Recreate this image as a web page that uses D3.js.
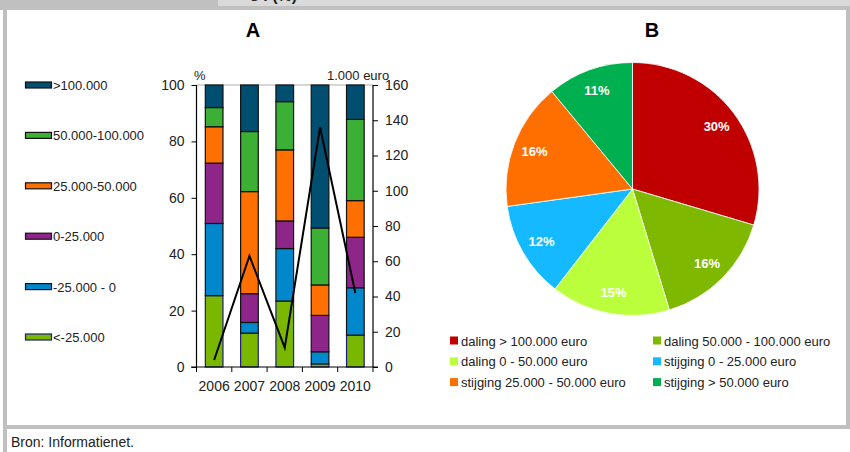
<!DOCTYPE html>
<html>
<head>
  <meta charset="utf-8">
  <script src="https://cdn.jsdelivr.net/npm/d3@7"></script>
  <style>
    body { margin: 0; background: #fff; }
    svg text { font-family: "Liberation Sans", Arial, sans-serif; fill: #222; }
  </style>
</head>
<body>
<script>
  // ---- data ----
  var years = ["2006", "2007", "2008", "2009", "2010"];
  var classNames = ["<-25.000", "-25.000 - 0", "0-25.000", "25.000-50.000", "50.000-100.000", ">100.000"];
  var below25 = [25.3, 12.0, 23.4, 1.1, 11.3];
  var minus25to0 = [25.6, 3.8, 18.6, 4.3, 16.8];
  var from0to25 = [21.4, 10.2, 9.8, 12.9, 17.9];
  var from25to50 = [12.9, 36.2, 25.2, 10.8, 13.0];
  var from50to100 = [6.8, 21.3, 17.1, 20.2, 28.8];
  var above100 = [8.0, 16.5, 5.9, 50.7, 12.2];
  var amount = [4, 63, 11, 136, 42];   // 1.000 euro, right axis

  var pieNames = ["daling > 100.000 euro", "daling 50.000 - 100.000 euro", "daling 0 - 50.000 euro",
                  "stijging 0 - 25.000 euro", "stijging 25.000 - 50.000 euro", "stijging > 50.000 euro"];
  var pieValues = [29.6, 15.7, 15.2, 12.3, 16.2, 11.0];

  var leftTicks = [0, 20, 40, 60, 80, 100];
  var rightTicks = [0, 20, 40, 60, 80, 100, 120, 140, 160];

  var barColors = ["#7ab800", "#0087cc", "#8e2689", "#ff7000", "#3cb034", "#004f70"];
  var barStrokes = ["#1c1c80", "#111", "#111", "#111", "#111", "#111"];
  var pieColors = ["#c00000", "#7fb800", "#bbff3c", "#14b9ff", "#ff6f00", "#00b050"];

  var W = 850, H = 452;
  var svg = d3.select("body").append("svg").attr("width", W).attr("height", H);

  // frame
  svg.append("rect").attr("x", 0).attr("y", 0).attr("width", 218).attr("height", 7).attr("fill", "#c0c0c0");
  svg.append("rect").attr("x", 218).attr("y", 0).attr("width", W - 218).attr("height", 6).attr("fill", "#d9d9d9");
  svg.append("text").attr("x", 250).attr("y", 1).style("font-weight", "bold").style("font-size", "16px")
    .text("s . (%)");
  svg.append("rect").attr("x", 0).attr("y", 6).attr("width", W).attr("height", 4).attr("fill", "#c0c0c0");
  svg.append("rect").attr("x", 3).attr("y", 6).attr("width", 4).attr("height", H).attr("fill", "#c0c0c0");
  svg.append("rect").attr("x", 846).attr("y", 6).attr("width", 4).attr("height", 423).attr("fill", "#c0c0c0");
  svg.append("rect").attr("x", 3).attr("y", 425).attr("width", W).attr("height", 4).attr("fill", "#c0c0c0");
  svg.append("text").attr("x", 11).attr("y", 447).style("font-size", "14px").text("Bron: Informatienet.");

  // ---- chart A ----
  svg.append("text").attr("x", 253).attr("y", 37).attr("text-anchor", "middle")
    .style("font-weight", "bold").style("font-size", "20px").style("fill", "#000").text("A");

  var x = d3.scaleBand().domain(years).range([196.5, 373]).paddingInner(0.5).paddingOuter(0.25);
  var xTicks = d3.scaleBand().domain(years).range([196.5, 373]);
  var y = d3.scaleLinear().domain([0, 100]).range([367, 85]);
  var y2 = d3.scaleLinear().domain([0, 160]).range([367, 85]);

  var rows = years.map(function (yr, i) {
    return { year: yr, s0: below25[i], s1: minus25to0[i], s2: from0to25[i],
             s3: from25to50[i], s4: from50to100[i], s5: above100[i] };
  });
  var stack = d3.stack().keys(["s0", "s1", "s2", "s3", "s4", "s5"]);
  var layers = stack(rows);

  var gA = svg.append("g");
  gA.append("line").attr("x1", 196.5).attr("x2", 373).attr("y1", 85).attr("y2", 85)
    .attr("stroke", "#999").attr("stroke-width", 0.8);

  layers.forEach(function (layer, li) {
    gA.selectAll(".s" + li).data(layer).enter().append("rect")
      .attr("x", function (d) { return x(d.data.year); })
      .attr("width", x.bandwidth())
      .attr("y", function (d) { return y(d[1]); })
      .attr("height", function (d) { return y(d[0]) - y(d[1]); })
      .attr("fill", barColors[li])
      .attr("stroke", barStrokes[li])
      .attr("stroke-width", 1.2);
  });

  var line = d3.line()
    .x(function (d, i) { return x(years[i]) + x.bandwidth() / 2; })
    .y(function (d) { return y2(d); });
  gA.append("path").datum(amount).attr("d", line)
    .attr("fill", "none").attr("stroke", "#000").attr("stroke-width", 2);

  // left axis
  var yAxis = d3.axisLeft(y).tickValues(leftTicks).tickSize(5).tickPadding(7);
  var gy = gA.append("g").attr("transform", "translate(196.5,0)").call(yAxis);
  // right axis
  var y2Axis = d3.axisRight(y2).tickValues(rightTicks).tickSize(5).tickPadding(7);
  var gy2 = gA.append("g").attr("transform", "translate(373,0)").call(y2Axis);
  // bottom axis: ticks at category boundaries, labels at centres
  var gx = gA.append("g").attr("transform", "translate(0,367)");
  gx.append("line").attr("x1", 191).attr("x2", 378).attr("y1", 0).attr("y2", 0).attr("stroke", "#000");
  years.concat(["end"]).forEach(function (yr, i) {
    var px = i < years.length ? xTicks(yr) : 373;
    gx.append("line").attr("x1", px).attr("x2", px).attr("y1", 0).attr("y2", 5).attr("stroke", "#000");
  });
  gx.selectAll(".yl").data(years).enter().append("text")
    .attr("x", function (d) { return x(d) + x.bandwidth() / 2; })
    .attr("y", 24).attr("text-anchor", "middle").style("font-size", "14px").text(function (d) { return d; });

  [gy, gy2].forEach(function (g) {
    g.select(".domain").attr("stroke", "#000").attr("stroke-width", 1.2);
    g.selectAll(".tick line").attr("stroke", "#000");
    g.selectAll(".tick text").style("font-size", "14px").style("font-family", "Liberation Sans, Arial, sans-serif").attr("fill", "#222");
  });
  gy.select(".domain").attr("d", "M0,85V367");
  gy2.select(".domain").attr("d", "M0,85V367");

  gA.append("text").attr("x", 194).attr("y", 80).style("font-size", "13px").text("%");
  gA.append("text").attr("x", 327).attr("y", 80).style("font-size", "13px").text("1.000 euro");

  // legend A (top row = top of stack)
  var legA = svg.append("g");
  classNames.slice().reverse().forEach(function (name, i) {
    var ci = classNames.length - 1 - i;
    var cy = 85 + i * 50.4;
    legA.append("rect").attr("x", 25.5).attr("y", cy - 3).attr("width", 26).attr("height", 6)
      .attr("fill", barColors[ci]).attr("stroke", barStrokes[ci]).attr("stroke-width", 1.2);
    legA.append("text").attr("x", 53).attr("y", cy + 5).style("font-size", "13px").text(name);
  });

  // ---- chart B ----
  svg.append("text").attr("x", 652).attr("y", 37).attr("text-anchor", "middle")
    .style("font-weight", "bold").style("font-size", "20px").style("fill", "#000").text("B");

  var cx = 632.5, cy = 189, R = 126.5;
  var pie = d3.pie().sort(null).value(function (d) { return d; });
  var arcs = pie(pieValues);
  var arc = d3.arc().innerRadius(0).outerRadius(R);
  var labelArc = d3.arc().innerRadius(R * 0.83).outerRadius(R * 0.83);
  var gB = svg.append("g").attr("transform", "translate(" + cx + "," + cy + ")");
  gB.selectAll("path").data(arcs).enter().append("path")
    .attr("d", arc)
    .attr("fill", function (d, i) { return pieColors[i]; })
    .attr("stroke", "#fff").attr("stroke-width", 0.8);
  gB.selectAll(".pl").data(arcs).enter().append("text")
    .attr("transform", function (d) { return "translate(" + labelArc.centroid(d) + ")"; })
    .attr("text-anchor", "middle").attr("dy", "0.35em")
    .style("font-size", "13px").style("font-weight", "bold").style("fill", "#fff")
    .text(function (d) { return Math.round(d.value) + "%"; });

  // legend B
  var legB = svg.append("g");
  pieNames.forEach(function (name, i) {
    var col = i % 2, row = Math.floor(i / 2);
    var lx = col === 0 ? 450 : 653;
    var ly = 340.5 + row * 20.8;
    legB.append("rect").attr("x", lx).attr("y", ly - 4).attr("width", 8).attr("height", 8)
      .attr("fill", pieColors[i]);
    legB.append("text").attr("x", lx + 11).attr("y", ly + 5).style("font-size", "13px").text(name);
  });
</script>
</body>
</html>
